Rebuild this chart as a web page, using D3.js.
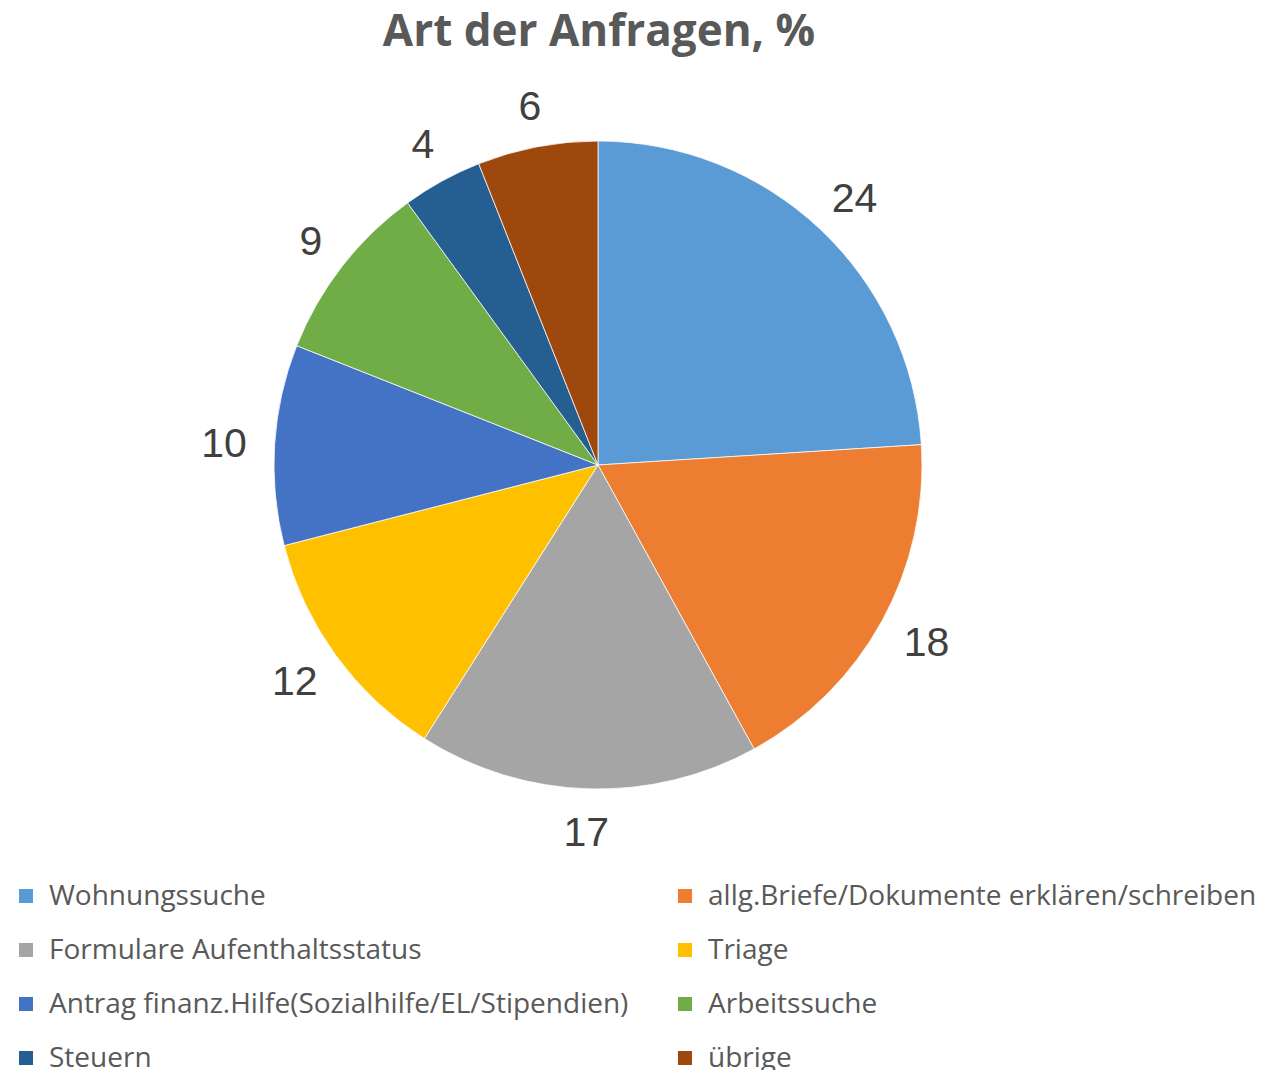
<!DOCTYPE html>
<html>
<head>
<meta charset="utf-8">
<script src="https://cdn.jsdelivr.net/npm/d3@7"></script>
<style>
  body { margin: 0; background: #fff; }
</style>
</head>
<body>
<div id="chart"></div>
<script>
// ============================
// Data
// ============================
const categories = [
  "Wohnungssuche",
  "allg.Briefe/Dokumente erklären/schreiben",
  "Formulare Aufenthaltsstatus",
  "Triage",
  "Antrag finanz.Hilfe(Sozialhilfe/EL/Stipendien)",
  "Arbeitssuche",
  "Steuern",
  "übrige"
];
const values = [24, 18, 17, 12, 10, 9, 4, 6];
const colors = ["#5B9BD5", "#ED7D31", "#A5A5A5", "#FFC000", "#4472C4", "#70AD47", "#255E91", "#9E480E"];
const title = "Art der Anfragen, %";

// ============================
// Setup
// ============================
const width = 1283, height = 1070;
const cx = 598, cy = 465, radius = 324;

const svg = d3.select("#chart").append("svg")
  .attr("width", width).attr("height", height)
  .attr("viewBox", [0, 0, width, height]);

const data = categories.map((c, i) => ({name: c, value: values[i], color: colors[i]}));

svg.append("text")
  .attr("x", 599)
  .attr("y", 46)
  .attr("text-anchor", "middle")
  .attr("font-family", "'Open Sans', sans-serif")
  .attr("font-weight", "bold")
  .attr("font-size", 44)
  .attr("fill", "#595959")
  .text(title);

// ============================
// Pie
// ============================
const pie = d3.pie().sort(null).value(d => d.value);
const arc = d3.arc().innerRadius(0).outerRadius(radius);
const arcs = pie(data);

const g = svg.append("g").attr("transform", `translate(${cx},${cy})`);

g.selectAll("path")
  .data(arcs)
  .join("path")
  .attr("d", arc)
  .attr("fill", d => d.data.color)
  .attr("stroke", "#fff")
  .attr("stroke-width", 0.75);

// data labels outside end
const labelR = 352, fs = 41, capH = fs * 0.716;
g.selectAll("text.lbl")
  .data(arcs)
  .join("text")
  .attr("class", "lbl")
  .attr("font-family", "'Liberation Sans', Arial, sans-serif")
  .attr("font-size", fs)
  .attr("fill", "#404040")
  .attr("text-anchor", "middle")
  .text(d => d.data.value)
  .each(function(d) {
    const a = (d.startAngle + d.endAngle) / 2;
    const hw = this.getComputedTextLength() / 2;
    const x = Math.sin(a) * (labelR + hw);
    const y = -Math.cos(a) * (labelR + capH / 2);
    d3.select(this).attr("x", x).attr("y", y + capH / 2);
  });

// ============================
// Legend
// ============================
const legend = svg.append("g")
  .attr("font-family", "'Open Sans', sans-serif")
  .attr("font-size", 28)
  .attr("fill", "#595959");

const colX = [19, 678], rowY0 = 896, rowH = 54;

const item = legend.selectAll("g")
  .data(data)
  .join("g")
  .attr("transform", (d, i) => `translate(${colX[i % 2]},${rowY0 + Math.floor(i / 2) * rowH})`);

item.append("rect")
  .attr("x", 0).attr("y", -7)
  .attr("width", 14).attr("height", 14)
  .attr("fill", d => d.color);

item.append("text")
  .attr("x", 30)
  .attr("y", 9)
  .text(d => d.name);
</script>
</body>
</html>
